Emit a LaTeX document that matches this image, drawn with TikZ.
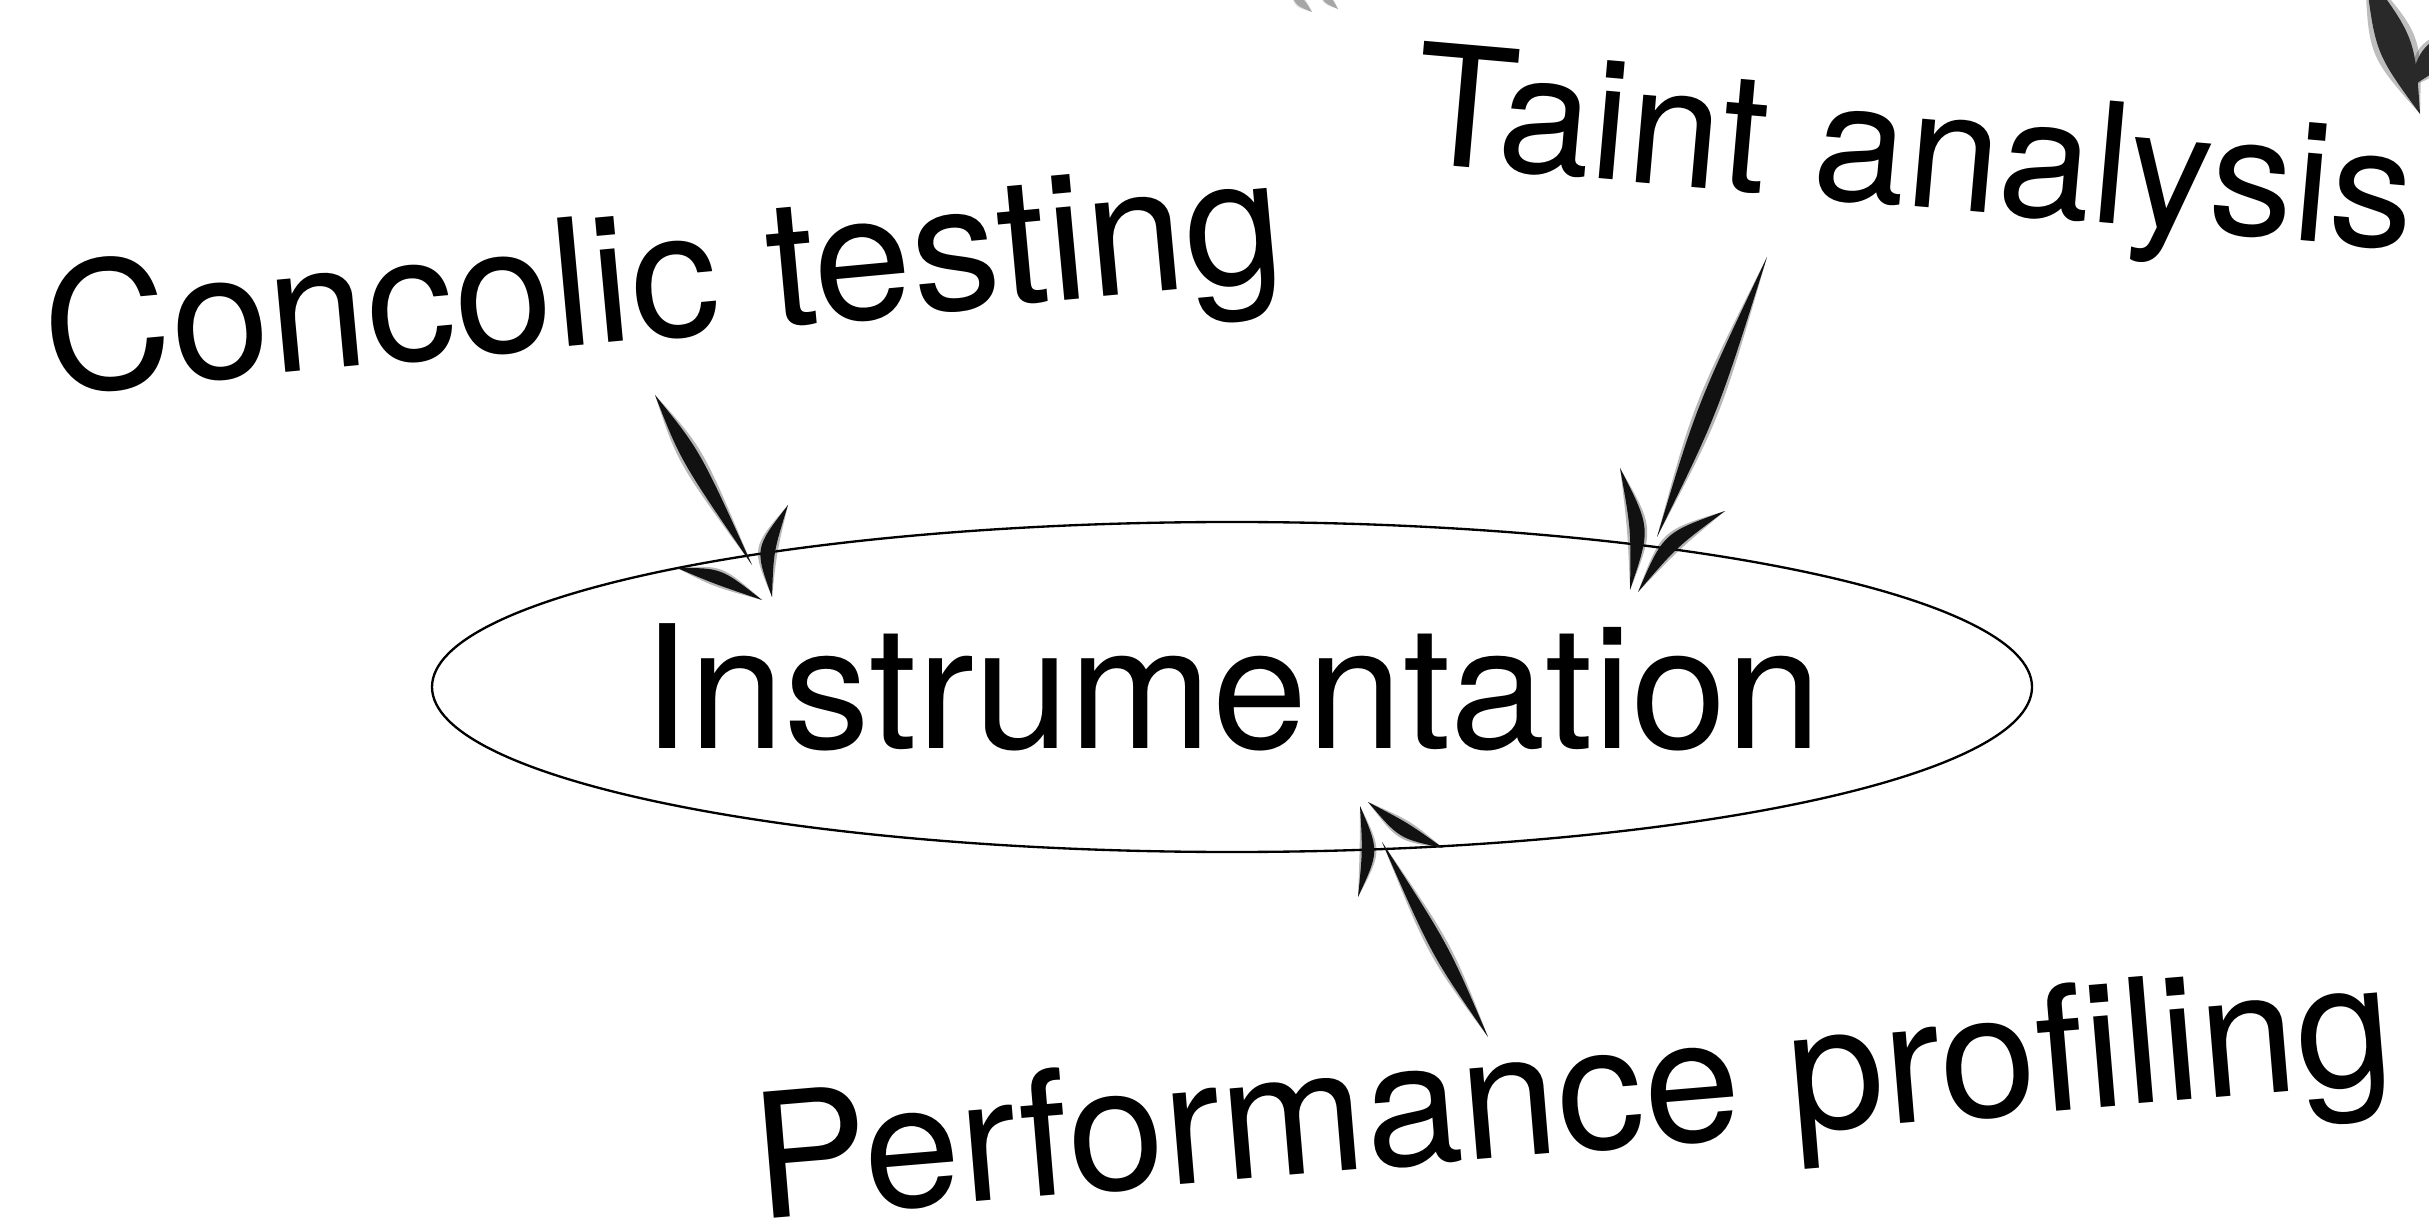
\documentclass[tikz,border=0pt]{standalone}
\usepackage{fontspec}
\setmainfont{TeX Gyre Heros}
\usetikzlibrary{shapes.geometric,calc}

\definecolor{ink}{HTML}{111111}

% tapered brush stroke: from, bend, to, half width (pt); soft halo + solid core
\newcommand\inkbrush[5][ink]{%
  \pgfmathsetmacro\brushsoft{#5*1.35}%
  \fill[#1,opacity=0.3] (#2)
    .. controls ($(#3)+($(#2)!\brushsoft pt!90:(#4)$)-(#2)$) .. (#4)
    .. controls ($(#3)-($(#2)!\brushsoft pt!90:(#4)$)+(#2)$) .. (#2) -- cycle;
  \fill[#1] (#2)
    .. controls ($(#3)+($(#2)!#5pt!90:(#4)$)-(#2)$) .. (#4)
    .. controls ($(#3)-($(#2)!#5pt!90:(#4)$)+(#2)$) .. (#2) -- cycle;}

\tikzset{
  lbl/.style={inner sep=0pt, font=\fontsize{52}{62}\selectfont},
  core/.style={draw, ellipse, line width=0.7pt, inner sep=0pt,
    minimum width=480pt, minimum height=99pt},
}

\begin{document}
\begin{tikzpicture}[x=0.3pt,y=-0.3pt]
\useasboundingbox (0,0) rectangle (2429,1222);
\clip (0,0) rectangle (2429,1222);

% central ellipse and its title
\node[core] (instr) at (1232,687) {};
\node[lbl, font=\fontsize{51.4}{60}\selectfont] (instrtext) at (instr.center) {Instrumentation};

% surrounding techniques
\node[lbl, font=\fontsize{53}{62}\selectfont, rotate=5.3, anchor=base] (concolic) at (668,337) {Concolic testing};
\node[lbl, font=\fontsize{50.2}{60}\selectfont, rotate=-5, anchor=base] (taint) at (1910,206) {Taint analysis};
\node[lbl, rotate=4.8, anchor=base] (perf) at (1577,1151) {Performance profiling};

% hand-drawn arrow: concolic testing -> instrumentation
\coordinate (ca) at (655,395);  \coordinate (cb) at (690,455);  \coordinate (cc) at (752,565);
\coordinate (cla) at (677,568); \coordinate (clb) at (718,576); \coordinate (clc) at (762,600);
\coordinate (cra) at (788,505); \coordinate (crb) at (764,550); \coordinate (crc) at (772,597);
\inkbrush{ca}{cb}{cc}{3.3}
\inkbrush{cla}{clb}{clc}{2.6}
\inkbrush{cra}{crb}{crc}{2.9}

% hand-drawn arrow: taint analysis -> instrumentation
\coordinate (ta) at (1767,257);  \coordinate (tb) at (1707,410);  \coordinate (tc) at (1657,537);
\coordinate (tla) at (1620,468); \coordinate (tlb) at (1641,529); \coordinate (tlc) at (1630,590);
\coordinate (tra) at (1725,511); \coordinate (trb) at (1670,540); \coordinate (trc) at (1638,592);
\inkbrush{ta}{tb}{tc}{3.4}
\inkbrush{tla}{tlb}{tlc}{3.0}
\inkbrush{tra}{trb}{trc}{2.9}

% hand-drawn arrow: performance profiling -> instrumentation
\coordinate (pa) at (1488,1037); \coordinate (pb) at (1440,950); \coordinate (pc) at (1382,842);
\coordinate (pla) at (1358,897); \coordinate (plb) at (1371,851); \coordinate (plc) at (1360,806);
\coordinate (pra) at (1443,848); \coordinate (prb) at (1404,831); \coordinate (prc) at (1368,802);
\inkbrush{pa}{pb}{pc}{3.0}
\inkbrush{pla}{plb}{plc}{2.5}
\inkbrush{pra}{prb}{prc}{2.7}

% strokes running in from beyond the top edge
\coordinate (xa) at (2365,-30); \coordinate (xb) at (2395,45);  \coordinate (xc) at (2420,114);
\coordinate (ya) at (2455,25);  \coordinate (yb) at (2432,58);  \coordinate (yc) at (2408,88);
\inkbrush[ink!90]{xa}{xb}{xc}{6.4}
\inkbrush[ink!90]{ya}{yb}{yc}{4.6}
\coordinate (za) at (1290,-8);  \coordinate (zb) at (1300,2);   \coordinate (zc) at (1312,12);
\coordinate (wa) at (1318,-8);  \coordinate (wb) at (1328,0);   \coordinate (wc) at (1338,9);
\inkbrush[gray!70]{za}{zb}{zc}{1.6}
\inkbrush[gray!70]{wa}{wb}{wc}{1.4}
\end{tikzpicture}
\end{document}
